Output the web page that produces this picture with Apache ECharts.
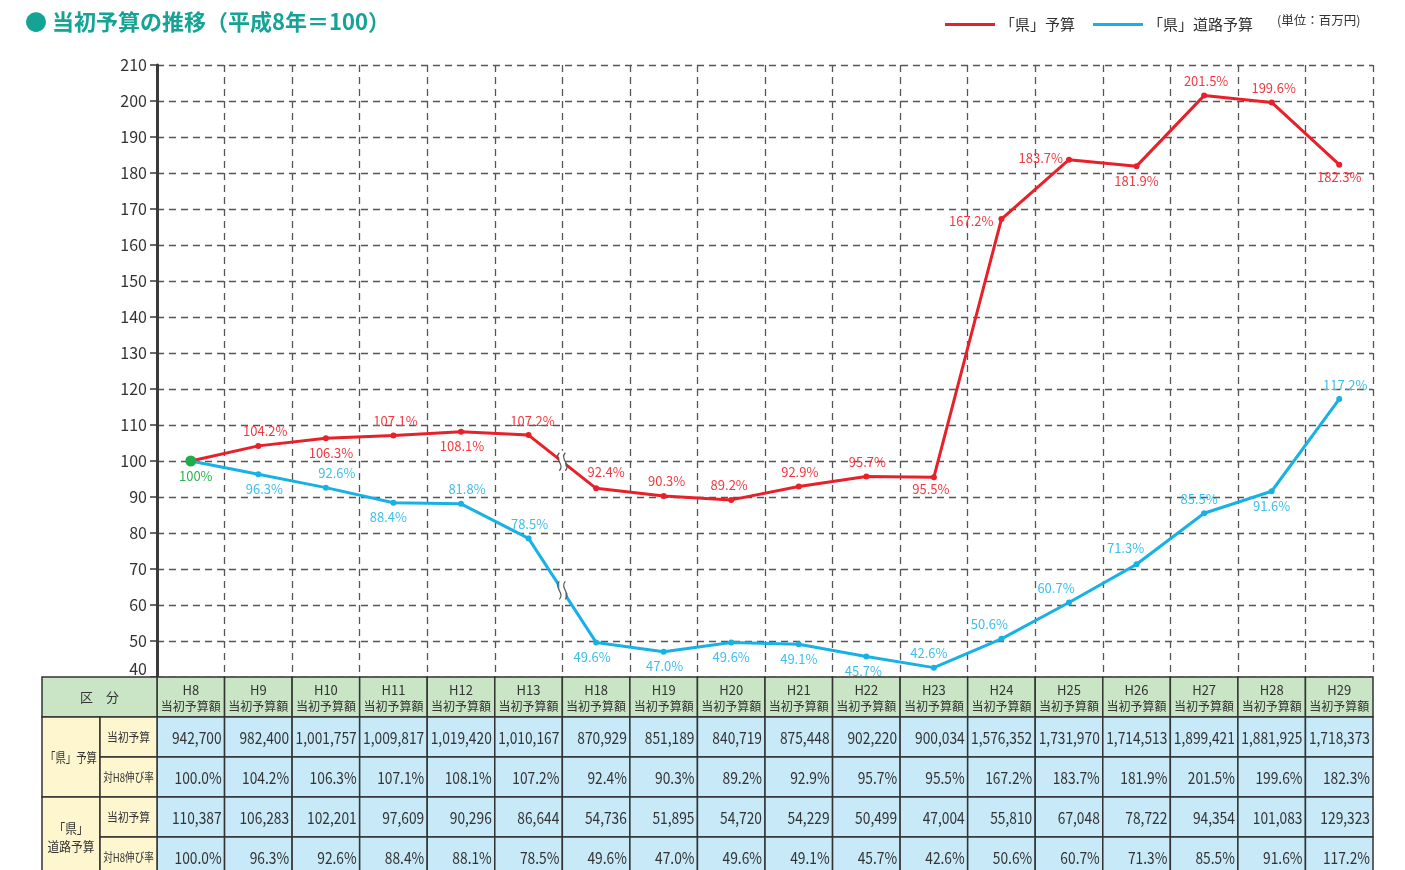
<!DOCTYPE html>
<html>
<head>
<meta charset="utf-8" />
<title>当初予算の推移</title>
<script src="https://cdn.jsdelivr.net/npm/echarts@6/dist/echarts.min.js"></script>
<style>html,body{margin:0;padding:0;background:#fff;}</style>
</head>
<body>
<div id="main" style="width:1405px;height:870px;"></div>
<script type="text/javascript">
// 年度
var years = ['H8', 'H9', 'H10', 'H11', 'H12', 'H13', 'H18', 'H19', 'H20', 'H21', 'H22', 'H23', 'H24', 'H25', 'H26', 'H27', 'H28', 'H29'];
// 「県」予算 (百万円) / 対H8伸び率
var kenBudget = [942700, 982400, 1001757, 1009817, 1019420, 1010167, 870929, 851189, 840719, 875448, 902220, 900034, 1576352, 1731970, 1714513, 1899421, 1881925, 1718373];
var kenRate = [100.0, 104.2, 106.3, 107.1, 108.1, 107.2, 92.4, 90.3, 89.2, 92.9, 95.7, 95.5, 167.2, 183.7, 181.9, 201.5, 199.6, 182.3];
// 「県」道路予算 (百万円) / 対H8伸び率
var roadBudget = [110387, 106283, 102201, 97609, 90296, 86644, 54736, 51895, 54720, 54229, 50499, 47004, 55810, 67048, 78722, 94354, 101083, 129323];
var roadRate = [100.0, 96.3, 92.6, 88.4, 88.1, 78.5, 49.6, 47.0, 49.6, 49.1, 45.7, 42.6, 50.6, 60.7, 71.3, 85.5, 91.6, 117.2];
// グラフ上のラベル (H12 はグラフ上 81.8% と表記)
var roadLabels = ['100%', '96.3%', '92.6%', '88.4%', '81.8%', '78.5%', '49.6%', '47.0%', '49.6%', '49.1%', '45.7%', '42.6%', '50.6%', '60.7%', '71.3%', '85.5%', '91.6%', '117.2%'];
// 縦軸
var yMin = 40, yMax = 210, yStep = 10;
// H13 と H18 の間の省略
var breakAt = 5;

window.onload = function () {
    var FONT = "'Noto Sans CJK JP', 'Noto Sans', sans-serif";
    var RED = '#e8202a', BLUE = '#17b1e6', GREEN = '#22ab4a';
    var C_HEAD = '#c9e5c6', C_CELL = '#c7e9f8', C_SIDE = '#fdf6cf', C_LINE = '#333';
    var ROWS = 5, ROW_H = 40, TABLE_TOP = 677, TABLE_H = 193; // 最終行は画面下で切れる

    var myChart = echarts.init(document.getElementById('main'));

    function comma(n) { return n.toString().replace(/\B(?=(\d{3})+(?!\d))/g, ','); }
    function pct(v) { return v.toFixed(1) + '%'; }

    // ラベル位置
    var kenPos = [null, ['top', [7, 0]], ['bottom', [5, 0]], ['top', [2, 0]], ['bottom', [1, 0]], ['top', [4, 0]],
        ['top', [10, -2]], ['top', [3, 0]], ['top', [-2, 0]], ['top', [1, 0]], ['top', [1, 0]], ['bottom', [-3, -3]],
        ['left', [0, 2]], ['left', [2, -2]], ['bottom', [0, 0]], ['top', [2, 0]], ['top', [2, 0]], ['bottom', [0, -2]]];
    var roadPos = [['bottom', [5, -2]], ['bottom', [6, 0]], ['top', [11, 0]], ['bottom', [-5, 0]], ['top', [6, 0]], ['top', [1, 0]],
        ['bottom', [-4, 0]], ['bottom', [1, 0]], ['bottom', [0, 0]], ['bottom', [0, 0]], ['bottom', [-3, 0]], ['top', [-5, 0]],
        ['top', [-12, 0]], ['top', [-13, 0]], ['top', [-11, -2]], ['top', [-5, 0]], ['bottom', [0, 0]], ['top', [6, 0]]];

    var kenData = kenRate.map(function (v, i) {
        if (i === 0) {
            return { value: v, symbolSize: 0, label: { show: false } };
        }
        return {
            value: v,
            label: { show: true, position: kenPos[i][0], offset: kenPos[i][1], formatter: pct(v) }
        };
    });
    var roadData = roadRate.map(function (v, i) {
        var item = {
            value: v,
            label: { show: true, position: roadPos[i][0], offset: roadPos[i][1], formatter: roadLabels[i] }
        };
        if (i === 0) {
            item.symbolSize = 11;
            item.itemStyle = { color: GREEN };
            item.label.color = '#2eb24f';
        }
        return item;
    });

    // 省略記号
    function renderBreak(params, api) {
        var i = api.value(0), v = api.value(1);
        var a = api.coord([i, v]), b = api.coord([i + 1, v]);
        var x = (a[0] + b[0]) / 2, y = a[1];
        var st = { stroke: '#555', lineWidth: 1.2, fill: null };
        return {
            type: 'group', x: x, y: y,
            children: [
                { type: 'rect', shape: { x: -3, y: -11, width: 6, height: 22 }, style: { fill: '#fff' } },
                { type: 'bezierCurve', shape: { x1: -3, y1: -9, cpx1: -9, cpy1: -3, cpx2: 3, cpy2: 3, x2: -3, y2: 9 }, style: st },
                { type: 'bezierCurve', shape: { x1: 3, y1: -9, cpx1: -3, cpy1: -3, cpx2: 9, cpy2: 3, x2: 3, y2: 9 }, style: st }
            ]
        };
    }

    // 表のセル
    var cells = [];
    for (var r = 0; r < ROWS; r++) {
        for (var c = 0; c < years.length; c++) {
            cells.push([c, r]);
        }
    }
    function renderCell(params, api) {
        var c = api.value(0), r = api.value(1);
        var p = api.coord([c, r + 0.5]);
        var s = api.size([1, 1]);
        var x = p[0] - s[0] / 2, y = p[1] - s[1] / 2;
        var kids = [{
            type: 'rect',
            shape: { x: x, y: y, width: s[0], height: s[1] },
            style: { fill: r === 0 ? C_HEAD : C_CELL, stroke: C_LINE, lineWidth: 1.5 }
        }];
        if (r === 0) {
            kids.push({
                type: 'text', x: p[0], y: p[1] + 1,
                style: {
                    text: '{a|' + years[c] + '}\n{b|当初予算額}',
                    align: 'center', verticalAlign: 'middle',
                    rich: {
                        a: { fontSize: 13, fontFamily: FONT, fill: '#333', lineHeight: 16 },
                        b: { fontSize: 12, fontFamily: FONT, fill: '#333', lineHeight: 16 }
                    }
                }
            });
        } else {
            var txt = [null, comma(kenBudget[c]), pct(kenRate[c]), comma(roadBudget[c]), pct(roadRate[c])][r];
            kids.push({
                type: 'text', x: x + s[0] - 3, y: p[1] + 1, scaleX: 0.86,
                style: {
                    text: txt, x: 0, y: 0, align: 'right', verticalAlign: 'middle',
                    fontSize: 16, fontFamily: FONT, fill: '#333'
                }
            });
        }
        return { type: 'group', children: kids };
    }

    // 表の見出し (左側)
    function renderSide(params, api) {
        var cs = params.coordSys;
        var rh = api.size([1, 1])[1];
        var w1 = 58, w2 = 57;
        var x0 = cs.x - w1 - w2, x1 = cs.x - w2;
        function box(x, y, w, h, fill) {
            return { type: 'rect', shape: { x: x, y: y, width: w, height: h }, style: { fill: fill, stroke: C_LINE, lineWidth: 1.5 } };
        }
        function label(x, y, t, size, sx) {
            return {
                type: 'text', x: x, y: y, scaleX: sx || 1,
                style: { text: t, x: 0, y: 0, align: 'center', verticalAlign: 'middle', fontSize: size, fontFamily: FONT, fill: '#333', lineHeight: 18 }
            };
        }
        var y = cs.y;
        return {
            type: 'group',
            children: [
                box(x0, y, w1 + w2, rh, C_HEAD),
                label(x0 + (w1 + w2) / 2, y + rh / 2, '区　分', 13),
                box(x0, y + rh, w1, 2 * rh, C_SIDE),
                label(x0 + w1 / 2, y + 2 * rh, '「県」予算', 13, 0.8),
                box(x1, y + rh, w2, rh, C_SIDE),
                label(x1 + w2 / 2, y + 1.5 * rh, '当初予算', 12, 0.9),
                box(x1, y + 2 * rh, w2, rh, C_SIDE),
                label(x1 + w2 / 2, y + 2.5 * rh, '対H8伸び率', 12, 0.8),
                box(x0, y + 3 * rh, w1, 2 * rh, C_SIDE),
                label(x0 + w1 / 2, y + 4 * rh, '「県」\n道路予算', 13, 0.9),
                box(x1, y + 3 * rh, w2, rh, C_SIDE),
                label(x1 + w2 / 2, y + 3.5 * rh, '当初予算', 12, 0.9),
                box(x1, y + 4 * rh, w2, rh, C_SIDE),
                label(x1 + w2 / 2, y + 4.5 * rh, '対H8伸び率', 12, 0.8)
            ]
        };
    }

    var dash = { color: '#555', width: 1.3, type: [7, 5] };

    var option = {
        animation: false,
        textStyle: { fontFamily: FONT },
        title: {
            left: 20, top: 6,
            text: '{d|●} 当初予算の推移（平成8年＝100）',
            textStyle: {
                color: '#14a394', fontSize: 22, fontWeight: 'bold', fontFamily: FONT,
                rich: { d: { color: '#14a394', fontSize: 22, fontFamily: FONT } }
            }
        },
        legend: {
            left: 940, top: 12,
            icon: 'rect', itemWidth: 50, itemHeight: 3, itemGap: 18,
            textStyle: { fontSize: 15, color: '#333', fontFamily: FONT },
            data: ['「県」予算', '「県」道路予算']
        },
        graphic: [{
            type: 'text', left: 1277, top: 14,
            style: { text: '(単位：百万円)', fontSize: 12.5, fill: '#333', fontFamily: FONT }
        }],
        grid: [
            { left: 157, right: 32, top: 65, height: 612 },
            { left: 157, right: 32, top: TABLE_TOP, height: TABLE_H }
        ],
        xAxis: [{
            type: 'category', gridIndex: 0, data: years, boundaryGap: true,
            axisLine: { show: false }, axisTick: { show: false }, axisLabel: { show: false },
            splitLine: { show: true, interval: 0, lineStyle: dash }
        }, {
            type: 'category', gridIndex: 1, data: years, show: false
        }],
        yAxis: [{
            type: 'value', gridIndex: 0, min: yMin, max: yMax, interval: yStep,
            axisLine: { show: true, lineStyle: { color: '#3a3a3a', width: 3 } },
            axisTick: { show: true, length: 7, lineStyle: { color: '#3a3a3a', width: 1.5 } },
            axisLabel: {
                margin: 10, fontSize: 16, color: '#333', fontFamily: FONT,
                formatter: function (v) { return v === yMin ? '{low|' + v + '}' : v; },
                rich: { low: { fontSize: 16, color: '#333', fontFamily: FONT, padding: [0, 0, 16, 0] } }
            },
            splitLine: { show: true, lineStyle: dash }
        }, {
            type: 'value', gridIndex: 1, inverse: true, min: 0, max: TABLE_H / ROW_H, show: false
        }],
        series: [
            {
                name: '「県」予算', type: 'line', xAxisIndex: 0, yAxisIndex: 0,
                data: kenData, symbol: 'circle', symbolSize: 6,
                lineStyle: { color: RED, width: 3 }, itemStyle: { color: RED },
                label: { fontSize: 13, color: '#f03a40', fontFamily: FONT },
                z: 3
            },
            {
                name: '「県」道路予算', type: 'line', xAxisIndex: 0, yAxisIndex: 0,
                data: roadData, symbol: 'circle', symbolSize: 6,
                lineStyle: { color: BLUE, width: 3 }, itemStyle: { color: BLUE },
                label: { fontSize: 13, color: '#3dbfeb', fontFamily: FONT },
                z: 4
            },
            {
                type: 'custom', xAxisIndex: 0, yAxisIndex: 0, renderItem: renderBreak, z: 5,
                data: [
                    [breakAt, (kenRate[breakAt] + kenRate[breakAt + 1]) / 2],
                    [breakAt, (roadRate[breakAt] + roadRate[breakAt + 1]) / 2]
                ]
            },
            {
                type: 'custom', xAxisIndex: 1, yAxisIndex: 1, renderItem: renderCell, data: cells, z: 6
            },
            {
                type: 'custom', xAxisIndex: 1, yAxisIndex: 1, renderItem: renderSide, data: [[0, 0]], z: 6
            }
        ]
    };
    myChart.setOption(option);
};
</script>
</body>
</html>
